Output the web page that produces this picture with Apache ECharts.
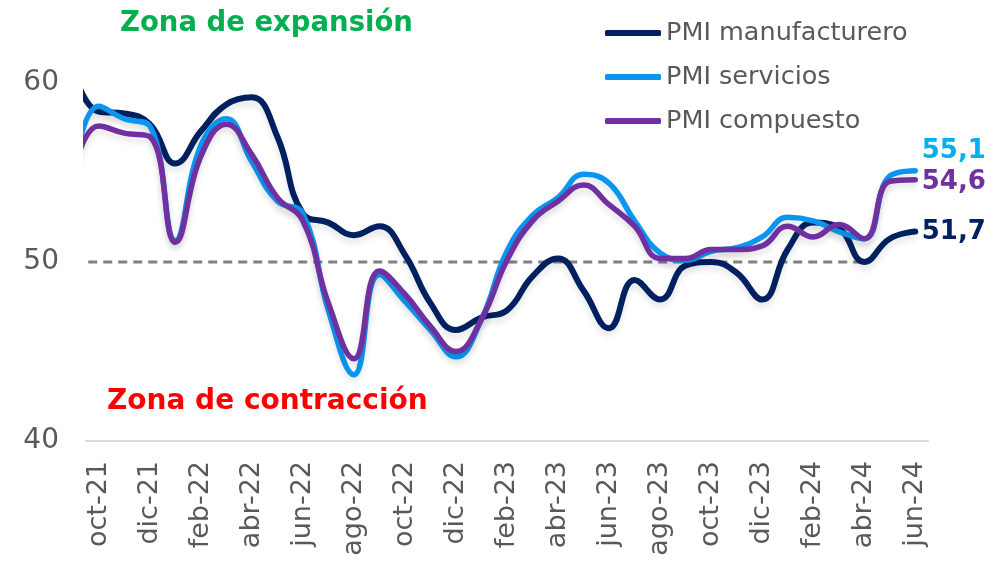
<!DOCTYPE html>
<html>
<head>
<meta charset="utf-8">
<script src="https://cdn.jsdelivr.net/npm/echarts@6/dist/echarts.min.js"></script>
<style>
html,body{margin:0;padding:0;background:#fff;}
#c{width:1002px;height:570px;}
</style>
</head>
<body>
<div id="c"></div>
<script>
// Months plotted (first one, sep-21, lies left of the visible axis and is clipped)
const months = ['sep-21','oct-21','nov-21','dic-21','ene-22','feb-22','mar-22','abr-22','may-22','jun-22','jul-22','ago-22','sep-22','oct-22','nov-22','dic-22','ene-23','feb-23','mar-23','abr-23','may-23','jun-23','jul-23','ago-23','sep-23','oct-23','nov-23','dic-23','ene-24','feb-24','mar-24','abr-24','may-24','jun-24'];
const firstVisible = 'oct-21';
const pmiManufacturero = [60.7,58.4,58.3,57.7,55.5,57.3,58.8,59.2,57.0,52.7,52.2,51.5,52.0,50.4,47.7,46.2,46.9,47.3,49.2,50.2,48.4,46.3,49.0,47.9,49.8,50.0,49.4,47.9,50.7,52.2,51.9,50.0,51.3,51.7];
const pmiServicios     = [54.9,58.7,58.0,57.6,51.2,56.5,58.0,55.6,53.4,52.7,47.3,43.7,49.3,47.8,46.2,44.7,46.8,50.6,52.6,53.6,54.9,54.4,52.3,50.5,50.1,50.6,50.8,51.4,52.5,52.3,51.7,51.3,54.8,55.1];
const pmiCompuesto     = [55.0,57.6,57.2,57.0,51.1,55.9,57.7,56.0,53.6,52.3,47.7,44.6,49.5,48.2,46.4,45.0,46.8,50.1,52.3,53.4,54.3,53.2,52.0,50.2,50.2,50.7,50.7,50.9,52.0,51.4,52.1,51.3,54.5,54.6];
const thresholdValue = 50;
const thresholdFrom = 'sep-21';
const thresholdTo = 'abr-24';
const yTicks = [40, 50, 60];
const names = ['PMI manufacturero','PMI servicios','PMI compuesto'];

const offset = months.indexOf(firstVisible);
const categories = months.slice(offset);
const FONT = 'DejaVu Sans';
const shadow = {shadowColor:'rgba(0,0,0,0.10)', shadowBlur:6, shadowOffsetY:5};

const toPts = arr => arr.map((v, i) => [i - offset, v]);

function lineSeries(name, arr, color, width) {
  return {type:'line', name:name, xAxisIndex:1, data:toPts(arr), smooth:0.45, symbol:'none', clip:true,
    color:color, lineStyle:Object.assign({color:color, width:width, cap:'round'}, shadow)};
}
function endLabel(arr, color, dy) {
  const i = arr.length - 1;
  return {type:'scatter', name:'lbl-' + color, xAxisIndex:1, silent:true, z:5,
    data:[[i - offset, arr[i]]], symbolSize:1, itemStyle:{color:'rgba(0,0,0,0)', opacity:1},
    label:{show:true, position:'right', distance:6, offset:[0, dy], opacity:1,
      formatter: p => String(p.value[1]).replace('.', ','),
      color:color, fontSize:26, fontWeight:'bold', fontFamily:FONT}};
}

const chart = echarts.init(document.getElementById('c'), null, {renderer:'canvas'});
chart.setOption({
  animation:false,
  backgroundColor:'#fff',
  grid:{left:86, right:74, top:83, bottom:129, containLabel:false},
  title:[
    {text:'Zona de expansión', left:115, top:5, textStyle:{color:'#00B050', fontSize:27.5, fontWeight:'bold', fontFamily:FONT}},
    {text:'Zona de contracción', left:102, top:383, textStyle:{color:'#FF0000', fontSize:28, fontWeight:'bold', fontFamily:FONT}}
  ],
  legend:{
    orient:'vertical', left:600, top:13, itemWidth:56, itemHeight:6, itemGap:14,
    icon:'roundRect',
    textStyle:{color:'#595959', fontSize:25.5, fontFamily:FONT, lineHeight:30},
    data:names
  },
  xAxis:[
    {type:'category', data:categories, boundaryGap:true,
     axisLine:{lineStyle:{color:'#D9D9D9', width:2}},
     axisTick:{interval:1, length:9, lineStyle:{color:'#D9D9D9', width:2}},
     axisLabel:{interval:1, rotate:90, margin:20, color:'#595959', fontSize:27, fontFamily:FONT},
     splitLine:{show:false}},
    {type:'value', min:-0.5, max:categories.length - 0.5, show:false}
  ],
  yAxis:{type:'value', min:yTicks[0], max:yTicks[yTicks.length-1], interval:yTicks[1]-yTicks[0],
     axisLine:{show:false}, axisTick:{show:false}, splitLine:{show:false},
     axisLabel:{color:'#595959', fontSize:28, fontFamily:FONT, margin:27}},
  series:[
    {type:'line', name:'threshold', xAxisIndex:1, silent:true, symbol:'none', clip:true,
     data:[[months.indexOf(thresholdFrom)-offset, thresholdValue],[months.indexOf(thresholdTo)-offset, thresholdValue]],
     lineStyle:{color:'#808080', width:3, type:[9,6]}, z:1},
    lineSeries(names[0], pmiManufacturero, '#002060', 6),
    lineSeries(names[1], pmiServicios, '#0A96F0', 5.5),
    lineSeries(names[2], pmiCompuesto, '#7030A0', 5.5),
    endLabel(pmiManufacturero, '#002060', 1),
    endLabel(pmiServicios, '#00B0F0', -19),
    endLabel(pmiCompuesto, '#7030A0', 3)
  ]
});
</script>
</body>
</html>
